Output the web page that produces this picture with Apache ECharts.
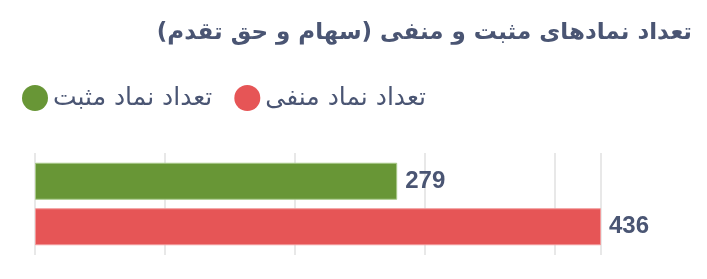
<!DOCTYPE html>
<html><head><meta charset="utf-8">
<script src="https://cdn.jsdelivr.net/npm/echarts@6/dist/echarts.min.js"></script>
<style>html,body{margin:0;padding:0;background:#fff}#c{width:707px;height:279px}</style>
</head><body><div id="c"></div>
<script>
const titleText = 'تعداد نمادهای مثبت و منفی (سهام و حق تقدم)';
const categories = [''];
const seriesNames = ['تعداد نماد مثبت', 'تعداد نماد منفی'];
const positiveValues = [279];
const negativeValues = [436];
const tickInterval = 100;

const chart = echarts.init(document.getElementById('c'));
const textColor = '#4a5573';
chart.setOption({
  animation: false,
  title: {
    text: titleText, right: 10, top: 17,
    textStyle: { fontSize: 23, fontWeight: 'bold', color: textColor, fontFamily: 'DejaVu Sans' }
  },
  legend: {
    data: seriesNames, left: 17, top: 80, icon: 'circle', itemWidth: 26, itemHeight: 26, itemGap: 22,
    itemStyle: { borderWidth: 0 },
    textStyle: { fontSize: 25, color: textColor, fontFamily: 'DejaVu Sans' }
  },
  grid: { left: 35, right: 106, top: 153, height: 102, containLabel: false },
  xAxis: {
    type: 'value', min: 0, max: 'dataMax', interval: tickInterval,
    axisLabel: { show: false }, axisLine: { show: false }, axisTick: { show: false },
    splitLine: { show: true, lineStyle: { color: '#e8e8e8', width: 2 } }
  },
  yAxis: { type: 'category', data: categories, inverse: true, show: false },
  series: [
    { name: seriesNames[0], type: 'bar', data: positiveValues, barWidth: 37, barGap: '23%',
      itemStyle: { color: '#689636', borderColor: '#a9c98a', borderWidth: 1 },
      label: { show: true, position: 'right', distance: 8, fontSize: 24, fontWeight: 'bold', color: textColor, fontFamily: 'Liberation Sans' } },
    { name: seriesNames[1], type: 'bar', data: negativeValues, barWidth: 37, barGap: '23%',
      itemStyle: { color: '#e65556', borderColor: '#f29a9b', borderWidth: 1 },
      label: { show: true, position: 'right', distance: 8, fontSize: 24, fontWeight: 'bold', color: textColor, fontFamily: 'Liberation Sans' } }
  ]
});
</script></body></html>
